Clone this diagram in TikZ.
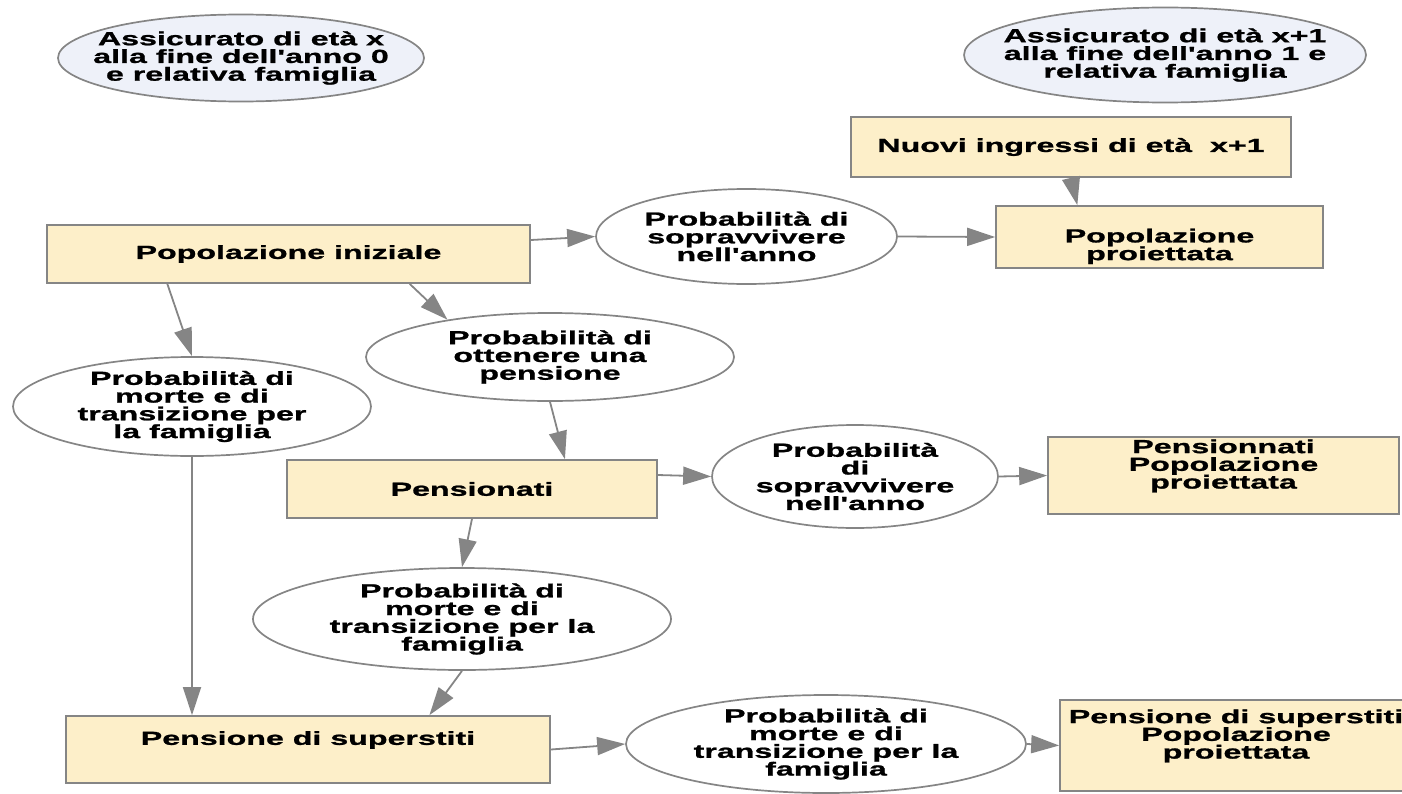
\documentclass[tikz,border=0pt]{standalone}
\usepackage{fontspec}
\newfontfamily\diagfont{Liberation Sans}[FakeStretch=1.7, FakeBold=1.2]
\usepackage{tikz}
\usetikzlibrary{shapes.geometric,arrows.meta,calc}

\definecolor{boxfill}{HTML}{FDEFC9}
\definecolor{yearfill}{HTML}{EEF1F9}
\definecolor{linegray}{HTML}{858585}

\begin{document}
\begin{tikzpicture}[x=1bp, y=-1bp,
	every node/.style={font=\diagfont\bfseries\fontsize{19}{17.8}\selectfont, align=center, draw=linegray, line width=1.7bp},
	box/.style={rectangle, fill=boxfill, inner sep=0pt},
	prob/.style={ellipse, fill=white, inner xsep=-60bp, inner ysep=-15bp},
	year/.style={prob, fill=yearfill},
	flow/.style={every edge/.style={draw=linegray, line width=1.8bp, -{Triangle[length=28bp, width=18bp]}}}]
	\useasboundingbox (0,0) rectangle (1402,793);
	\clip (0,0) rectangle (1402,793);
	\node[year, minimum width=366bp, minimum height=87bp] (age0) at (241,58) {Assicurato di età x\\alla fine dell'anno 0\\e relativa famiglia};
	\node[year, minimum width=402bp, minimum height=95bp] (age1) at (1165,55) {Assicurato di età x+1\\alla fine dell'anno 1 e\\relativa famiglia};
	\node[box, minimum width=440bp, minimum height=60bp] (nuovi) at (1071,147) {Nuovi ingressi di età~ x+1};
	\node[box, minimum width=327bp, minimum height=62bp] (proi) at (1159.5,237) {\strut\\Popolazione\\proiettata};
	\node[box, minimum width=483bp, minimum height=58bp] (ini) at (288.5,254) {Popolazione iniziale};
	\node[prob, minimum width=301bp, minimum height=95bp] (sopr) at (746.5,236.5) {Probabilità di\\sopravvivere\\nell'anno};
	\node[prob, minimum width=368bp, minimum height=88bp] (ottenere) at (550,357) {Probabilità di\\ottenere una\\pensione};
	\node[prob, minimum width=358bp, minimum height=99bp] (morte) at (192,406.5) {Probabilità di\\morte e di\\transizione per\\la famiglia};
	\node[box, minimum width=370bp, minimum height=58bp] (pensionati) at (472,489) {Pensionati};
	\node[prob, minimum width=286bp, minimum height=103bp] (soprp) at (855,476.5) {Probabilità\\di\\sopravvivere\\nell'anno};
	\node[box, minimum width=351bp, minimum height=77bp] (proip) at (1223.5,475.5) {Pensionnati\\Popolazione\\proiettata\\\strut};
	\node[prob, minimum width=418bp, minimum height=102bp] (morteb) at (462,619) {Probabilità di\\morte e di\\transizione per la\\famiglia};
	\node[box, minimum width=484bp, minimum height=67bp] (superst) at (308,749.5) {Pensione di superstiti\\\strut};
	\node[prob, minimum width=400bp, minimum height=98bp] (morter) at (826,744) {Probabilità di\\morte e di\\transizione per la\\famiglia};
	\node[box, minimum width=352bp, minimum height=91bp] (proisup) at (1236,745.5) {Pensione di superstiti\\Popolazione\\proiettata\\\strut};
	\path[flow]
	([yshift=14bp]ini.east) edge (sopr.west)
	(sopr.east) edge (proi.west)
	(nuovi.south) edge ($(proi.north west)!0.25!(proi.north east)$)
	($(ini.south west)!0.25!(ini.south east)$) edge (morte.north)
	($(ini.south west)!0.75!(ini.south east)$) edge (ottenere.160)
	(ottenere.south) edge ($(pensionati.north west)!0.75!(pensionati.north east)$)
	([yshift=14bp]pensionati.east) edge (soprp.west)
	(soprp.east) edge (proip.west)
	(pensionati.south) edge (morteb.north)
	(morteb.south) edge ($(superst.north west)!0.75!(superst.north east)$)
	(morte.south) edge (morte.south |- superst.north)
	(superst.east) edge (morter.west)
	(morter.east) edge (proisup.west);
\end{tikzpicture}
\end{document}
